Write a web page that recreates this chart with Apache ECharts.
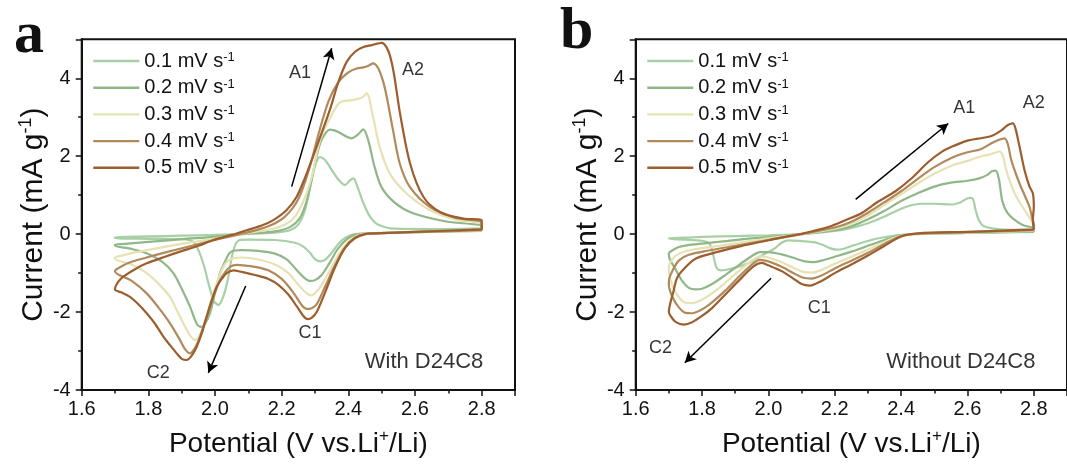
<!DOCTYPE html>
<html><head><meta charset="utf-8">
<script src="https://cdn.jsdelivr.net/npm/echarts@6/dist/echarts.min.js"></script>
<style>html,body{margin:0;padding:0;background:#fff}#c{width:1067px;height:468px}</style>
</head><body><div id="c"></div>
<script>
// ---------- data ----------
const seriesNames = ['0.1 mV s', '0.2 mV s', '0.3 mV s', '0.4 mV s', '0.5 mV s'];
const seriesColors = ['#a8d0a6', '#8fb787', '#e6e2b3', '#b08a5c', '#9c5e2e'];

// Panel a (With D24C8): closed CV loops, [potential V, current mA g-1]
const a01 = [[2.80,0.1],[2.65,0.07],[2.50,0.03],[2.42,0.0],[2.39,-0.1],[2.37,-0.25],[2.35,-0.48],[2.33,-0.66],[2.315,-0.7],[2.30,-0.64],[2.285,-0.48],[2.265,-0.32],[2.24,-0.22],[2.18,-0.15],[2.10,-0.14],[2.075,-0.15],[2.062,-0.25],[2.05,-0.6],[2.04,-1.1],[2.025,-1.6],[2.01,-1.82],[1.997,-1.72],[1.983,-1.35],[1.968,-0.85],[1.952,-0.45],[1.935,-0.2],[1.90,-0.13],[1.80,-0.12],[1.70,-0.11],
  [1.70,-0.08],[1.80,-0.06],[1.90,-0.04],[2.00,-0.02],[2.10,0.01],[2.18,0.04],[2.225,0.1],[2.25,0.25],[2.27,0.62],[2.285,1.2],[2.30,1.75],[2.315,1.98],[2.33,1.9],[2.35,1.65],[2.37,1.4],[2.39,1.26],[2.405,1.38],[2.415,1.43],[2.428,1.2],[2.445,0.8],[2.465,0.45],[2.49,0.24],[2.54,0.14],[2.65,0.13],[2.80,0.15],[2.80,0.1]];
const a02 = [[2.80,0.08],[2.60,0.05],[2.48,0.02],[2.43,0.0],[2.40,-0.1],[2.37,-0.36],[2.345,-0.72],[2.32,-1.05],[2.30,-1.18],[2.285,-1.2],[2.268,-1.12],[2.245,-0.92],[2.215,-0.65],[2.18,-0.5],[2.13,-0.43],[2.08,-0.41],[2.06,-0.42],[2.045,-0.47],[2.03,-0.7],[2.015,-1.0],[2.0,-1.5],[1.985,-2.03],[1.97,-2.3],[1.958,-2.38],[1.945,-2.3],[1.925,-1.86],[1.90,-1.4],[1.875,-1.0],[1.84,-0.7],[1.795,-0.49],[1.75,-0.38],[1.70,-0.3],
  [1.70,-0.27],[1.73,-0.25],[1.80,-0.2],[1.90,-0.13],[2.00,-0.07],[2.10,0.01],[2.18,0.07],[2.225,0.18],[2.255,0.42],[2.275,0.85],[2.29,1.4],[2.305,2.0],[2.32,2.42],[2.345,2.68],[2.37,2.62],[2.395,2.5],[2.41,2.46],[2.428,2.55],[2.445,2.69],[2.46,2.4],[2.478,1.75],[2.50,1.2],[2.54,0.8],[2.59,0.55],[2.69,0.33],[2.80,0.2],[2.80,0.08]];
const a03 = [[2.80,0.08],[2.60,0.05],[2.48,0.02],[2.44,0.0],[2.41,-0.12],[2.38,-0.4],[2.35,-0.85],[2.32,-1.3],[2.30,-1.52],[2.29,-1.57],[2.275,-1.52],[2.25,-1.3],[2.22,-1.0],[2.18,-0.78],[2.13,-0.65],[2.08,-0.6],[2.06,-0.61],[2.04,-0.68],[2.025,-0.84],[2.01,-1.15],[1.995,-1.52],[1.98,-1.95],[1.965,-2.38],[1.95,-2.65],[1.94,-2.72],[1.925,-2.6],[1.905,-2.29],[1.885,-1.95],[1.865,-1.61],[1.83,-1.27],[1.795,-1.0],[1.75,-0.78],[1.70,-0.63],
  [1.70,-0.6],[1.72,-0.55],[1.76,-0.47],[1.82,-0.37],[1.90,-0.25],[1.98,-0.14],[2.05,-0.04],[2.10,0.03],[2.18,0.15],[2.23,0.36],[2.26,0.75],[2.289,1.43],[2.314,2.38],[2.345,2.98],[2.375,3.38],[2.41,3.44],[2.44,3.5],[2.455,3.61],[2.474,3.01],[2.494,2.24],[2.524,1.56],[2.574,1.05],[2.644,0.62],[2.72,0.38],[2.80,0.25],[2.80,0.08]];
const a04 = [[2.80,0.1],[2.60,0.05],[2.48,0.02],[2.45,0.0],[2.42,-0.1],[2.39,-0.35],[2.36,-0.8],[2.33,-1.35],[2.305,-1.8],[2.29,-1.9],[2.275,-1.92],[2.26,-1.82],[2.235,-1.5],[2.20,-1.15],[2.16,-0.93],[2.12,-0.84],[2.085,-0.8],[2.065,-0.79],[2.045,-0.84],[2.03,-0.98],[2.015,-1.18],[2.0,-1.5],[1.985,-1.86],[1.97,-2.25],[1.955,-2.63],[1.94,-2.92],[1.925,-3.06],[1.91,-2.95],[1.895,-2.72],[1.865,-2.29],[1.83,-1.88],[1.795,-1.52],[1.75,-1.2],[1.70,-0.96],
  [1.70,-0.94],[1.715,-0.85],[1.74,-0.74],[1.795,-0.6],[1.86,-0.45],[1.93,-0.3],[2.00,-0.15],[2.05,-0.05],[2.10,0.05],[2.16,0.2],[2.21,0.45],[2.25,0.9],[2.28,1.6],[2.31,2.55],[2.34,3.4],[2.37,3.9],[2.40,4.15],[2.425,4.25],[2.445,4.28],[2.462,4.33],[2.474,4.38],[2.49,4.25],[2.505,3.9],[2.515,3.53],[2.534,2.67],[2.554,1.82],[2.584,1.22],[2.644,0.7],[2.72,0.42],[2.80,0.3],[2.80,0.1]];
const a05 = [[2.80,0.12],[2.60,0.06],[2.48,0.02],[2.45,0.0],[2.42,-0.1],[2.39,-0.35],[2.36,-0.85],[2.33,-1.5],[2.305,-2.0],[2.29,-2.15],[2.278,-2.18],[2.265,-2.1],[2.245,-1.85],[2.22,-1.55],[2.19,-1.3],[2.16,-1.15],[2.12,-1.05],[2.08,-0.97],[2.055,-0.93],[2.035,-1.0],[2.02,-1.15],[2.005,-1.35],[1.99,-1.7],[1.975,-2.12],[1.96,-2.55],[1.945,-2.89],[1.93,-3.12],[1.915,-3.23],[1.90,-3.2],[1.885,-3.06],[1.865,-2.85],[1.845,-2.63],[1.82,-2.3],[1.795,-2.03],[1.77,-1.8],[1.745,-1.61],[1.72,-1.5],[1.70,-1.43],
  [1.70,-1.4],[1.71,-1.22],[1.725,-1.09],[1.76,-0.9],[1.795,-0.75],[1.85,-0.58],[1.895,-0.45],[1.95,-0.3],[1.995,-0.15],[2.05,-0.02],[2.095,0.1],[2.14,0.22],[2.175,0.36],[2.215,0.62],[2.245,0.96],[2.27,1.45],[2.294,1.99],[2.32,2.6],[2.345,3.2],[2.37,3.9],[2.395,4.42],[2.42,4.68],[2.445,4.8],[2.47,4.85],[2.50,4.91],[2.52,4.7],[2.535,4.2],[2.555,3.1],[2.585,1.82],[2.625,0.96],[2.675,0.57],[2.745,0.40],[2.80,0.36],[2.80,0.12]];

// Panel b (Without D24C8)
const b01 = [[2.80,0.06],[2.70,0.05],[2.60,0.03],[2.50,0.01],[2.40,-0.02],[2.35,-0.08],[2.31,-0.15],[2.26,-0.28],[2.225,-0.38],[2.205,-0.4],[2.185,-0.36],[2.165,-0.28],[2.14,-0.21],[2.10,-0.18],[2.06,-0.16],[2.04,-0.22],[2.02,-0.36],[1.98,-0.55],[1.94,-0.74],[1.90,-0.86],[1.87,-0.92],[1.855,-0.93],[1.845,-0.88],[1.838,-0.7],[1.83,-0.4],[1.82,-0.22],[1.80,-0.17],[1.75,-0.14],[1.70,-0.12],
  [1.70,-0.1],[1.75,-0.09],[1.80,-0.07],[1.90,-0.05],[2.00,-0.03],[2.10,0.0],[2.20,0.08],[2.25,0.16],[2.30,0.28],[2.35,0.45],[2.40,0.65],[2.43,0.74],[2.46,0.78],[2.50,0.78],[2.55,0.76],[2.58,0.82],[2.605,0.93],[2.615,0.92],[2.625,0.6],[2.635,0.35],[2.65,0.2],[2.70,0.12],[2.80,0.1],[2.80,0.06]];
const b02 = [[2.80,0.06],[2.60,0.03],[2.45,0.01],[2.40,-0.03],[2.35,-0.15],[2.30,-0.3],[2.25,-0.45],[2.20,-0.58],[2.16,-0.68],[2.135,-0.72],[2.11,-0.7],[2.08,-0.62],[2.04,-0.52],[2.00,-0.46],[1.975,-0.46],[1.95,-0.56],[1.91,-0.8],[1.87,-1.05],[1.83,-1.28],[1.80,-1.4],[1.78,-1.42],[1.76,-1.38],[1.74,-1.2],[1.72,-0.9],[1.70,-0.55],
  [1.70,-0.5],[1.71,-0.42],[1.73,-0.33],[1.77,-0.27],[1.85,-0.2],[1.95,-0.11],[2.05,-0.04],[2.10,0.0],[2.20,0.1],[2.25,0.2],[2.30,0.38],[2.35,0.6],[2.40,0.85],[2.45,1.05],[2.50,1.22],[2.55,1.32],[2.60,1.37],[2.635,1.43],[2.66,1.52],[2.675,1.62],[2.685,1.63],[2.695,1.4],[2.705,0.85],[2.72,0.55],[2.74,0.38],[2.77,0.22],[2.80,0.15],[2.80,0.06]];
const b03 = [[2.80,0.08],[2.60,0.04],[2.45,0.01],[2.40,-0.04],[2.35,-0.2],[2.30,-0.4],[2.25,-0.58],[2.20,-0.76],[2.16,-0.92],[2.13,-0.99],[2.105,-0.97],[2.08,-0.88],[2.04,-0.72],[2.00,-0.6],[1.975,-0.57],[1.95,-0.68],[1.91,-0.95],[1.87,-1.25],[1.83,-1.52],[1.80,-1.68],[1.77,-1.77],[1.75,-1.76],[1.73,-1.62],[1.71,-1.3],[1.70,-0.95],
  [1.70,-0.85],[1.71,-0.65],[1.73,-0.5],[1.77,-0.4],[1.85,-0.3],[1.95,-0.17],[2.05,-0.05],[2.10,0.0],[2.20,0.14],[2.25,0.27],[2.30,0.48],[2.35,0.75],[2.40,1.02],[2.45,1.3],[2.50,1.55],[2.55,1.75],[2.60,1.88],[2.642,2.0],[2.67,2.05],[2.697,2.12],[2.707,2.0],[2.717,1.64],[2.742,1.05],[2.772,0.62],[2.792,0.36],[2.80,0.2],[2.80,0.08]];
const b04 = [[2.80,0.1],[2.60,0.05],[2.45,0.01],[2.40,-0.05],[2.35,-0.25],[2.30,-0.48],[2.25,-0.68],[2.20,-0.88],[2.16,-1.06],[2.13,-1.14],[2.105,-1.12],[2.08,-1.02],[2.04,-0.84],[2.00,-0.7],[1.975,-0.66],[1.95,-0.78],[1.91,-1.1],[1.87,-1.45],[1.83,-1.75],[1.80,-1.93],[1.77,-2.03],[1.75,-2.02],[1.73,-1.88],[1.71,-1.6],[1.70,-1.3],
  [1.70,-1.2],[1.71,-0.95],[1.73,-0.68],[1.76,-0.53],[1.82,-0.42],[1.90,-0.3],[2.00,-0.15],[2.10,0.0],[2.20,0.17],[2.25,0.32],[2.30,0.55],[2.35,0.82],[2.40,1.1],[2.45,1.42],[2.50,1.72],[2.55,1.95],[2.60,2.1],[2.64,2.18],[2.672,2.33],[2.695,2.42],[2.712,2.46],[2.722,2.3],[2.732,1.9],[2.757,1.3],[2.787,0.7],[2.794,0.45],[2.80,0.25],[2.80,0.1]];
const b05 = [[2.80,0.12],[2.60,0.06],[2.45,0.02],[2.40,-0.06],[2.35,-0.3],[2.30,-0.55],[2.25,-0.78],[2.20,-1.0],[2.16,-1.2],[2.125,-1.32],[2.10,-1.28],[2.075,-1.14],[2.04,-0.95],[2.00,-0.8],[1.98,-0.74],[1.955,-0.83],[1.91,-1.2],[1.87,-1.55],[1.83,-1.9],[1.80,-2.1],[1.77,-2.26],[1.745,-2.32],[1.72,-2.25],[1.705,-2.1],[1.70,-1.99],
  [1.705,-1.75],[1.713,-1.5],[1.725,-1.12],[1.75,-0.85],[1.783,-0.62],[1.85,-0.45],[1.92,-0.3],[1.983,-0.19],[2.05,-0.07],[2.10,0.01],[2.183,0.19],[2.23,0.35],[2.283,0.55],[2.33,0.83],[2.383,1.1],[2.43,1.42],[2.482,1.85],[2.52,2.1],[2.552,2.24],[2.60,2.4],[2.632,2.45],[2.672,2.52],[2.70,2.65],[2.722,2.8],[2.737,2.84],[2.745,2.7],[2.757,2.24],[2.772,1.64],[2.787,1.22],[2.797,1.05],[2.80,0.7],[2.797,0.36],[2.80,0.12]];

const aCurves = [a01, a02, a03, a04, a05];
const bCurves = [b01, b02, b03, b04, b05];

// axes
const xMin = 1.6, xMax = 2.9, xStep = 0.2;
const yMin = -4, yMax = 5, yStep = 2;

// annotations [x, y, text]
const aNotes = [[2.255, 4.13, 'A1'], [2.594, 4.21, 'A2'], [2.285, -2.55, 'C1'], [1.83, -3.57, 'C2']];
const bNotes = [[2.59, 3.23, 'A1'], [2.80, 3.36, 'A2'], [2.153, -1.90, 'C1'], [1.675, -2.93, 'C2']];
const aArrows = [[[2.23, 1.22], [2.35, 4.77]], [[2.092, -1.33], [1.98, -3.56]]];
const bArrows = [[[2.263, 0.89], [2.542, 2.84]], [[2.008, -1.13], [1.748, -3.30]]];
const aCondition = [[2.805, -3.28, 'With D24C8']];
const bCondition = [[2.805, -3.28, 'Without D24C8']];
const panelLetters = ['a', 'b'];

// ---------- chart ----------
const FONT = "'Liberation Sans', Arial, Helvetica, sans-serif";
const INK = '#111';
const chart = echarts.init(document.getElementById('c'), null, {renderer: 'canvas'});

const gridBox = [
  {left: 81.7, top: 39.3, width: 433.3, height: 350.7},
  {left: 635.7, top: 39.3, width: 433.3, height: 350.7}
];

function nameRich(size) {
  return {
    n: {fontSize: size, fontFamily: FONT, color: INK, lineHeight: size + 4},
    s: {fontSize: Math.round(size * 0.6), fontFamily: FONT, color: INK, verticalAlign: 'top', lineHeight: Math.round(size * 0.6)}
  };
}

function xAxis(i) {
  return {
    type: 'value', gridIndex: i, min: xMin, max: xMax, interval: xStep,
    axisLine: {show: true, onZero: false, lineStyle: {color: INK, width: 2}},
    axisTick: {show: true, length: 6, lineStyle: {color: INK, width: 1.5}},
    minorTick: {show: true, splitNumber: 2, length: 3.5, lineStyle: {color: INK, width: 1.5}},
    splitLine: {show: false}, minorSplitLine: {show: false},
    axisLabel: {fontSize: 20, fontFamily: FONT, color: INK, margin: 9, showMaxLabel: false,
      formatter: v => v.toFixed(1)},
    name: '{n|Potential (V vs.Li}{s|+}{n|/Li)}', nameLocation: 'middle', nameGap: 38,
    nameTextStyle: {rich: nameRich(28)}
  };
}
function yAxis(i) {
  return {
    type: 'value', gridIndex: i, min: yMin, max: yMax, interval: yStep,
    axisLine: {show: true, onZero: false, lineStyle: {color: INK, width: 2}},
    axisTick: {show: true, length: 6, lineStyle: {color: INK, width: 1.5}},
    minorTick: {show: true, splitNumber: 2, length: 3.5, lineStyle: {color: INK, width: 1.5}},
    splitLine: {show: false}, minorSplitLine: {show: false},
    axisLabel: {fontSize: 20, fontFamily: FONT, color: INK, margin: 11, showMaxLabel: false,
      formatter: v => String(v)},
    name: '{n|Current (mA g}{s|-1}{n|)}', nameLocation: 'middle', nameGap: 31,
    nameTextStyle: {rich: nameRich(30)}
  };
}

function legend(left) {
  return {
    data: seriesNames, orient: 'vertical', left: left, top: 51, padding: 0,
    icon: 'rect', itemWidth: 46, itemHeight: 2.4, itemGap: 6.7, selectedMode: false,
    formatter: n => '{n|' + n + '}{s|-1}',
    textStyle: {
      rich: {
        n: {fontSize: 20, fontFamily: FONT, color: INK, lineHeight: 20},
        s: {fontSize: 13, fontFamily: FONT, color: INK, verticalAlign: 'top', lineHeight: 13}
      }
    }
  };
}

const series = [];
[aCurves, bCurves].forEach((curves, gi) => {
  curves.forEach((d, k) => {
    series.push({
      type: 'line', name: seriesNames[k], xAxisIndex: gi, yAxisIndex: gi,
      data: d, symbol: 'none', smooth: 0.3, z: 2 + k,
      lineStyle: {color: seriesColors[k], width: 2.2},
      itemStyle: {color: seriesColors[k]}
    });
  });
});

[[aNotes, aArrows, aCondition], [bNotes, bArrows, bCondition]].forEach(([notes, arrows, cond], gi) => {
  series.push({
    type: 'scatter', xAxisIndex: gi, yAxisIndex: gi, symbolSize: 0, silent: true, z: 10,
    data: notes,
    label: {show: true, position: 'inside', formatter: p => p.data[2], fontSize: 18, fontFamily: FONT, color: '#000'},
    markLine: {
      silent: true, symbol: ['none', 'arrow'], symbolSize: [9, 11], animation: false,
      lineStyle: {color: '#000', width: 1.5, type: 'solid'}, label: {show: false},
      data: arrows.map(([p, q]) => [{coord: p}, {coord: q}])
    }
  });
  series.push({
    type: 'scatter', xAxisIndex: gi, yAxisIndex: gi, symbolSize: 0, silent: true, z: 10,
    data: cond,
    label: {show: true, position: 'left', distance: 0, formatter: p => p.data[2], fontSize: 22, fontFamily: FONT, color: '#000'}
  });
});

const option = {
  animation: false,
  backgroundColor: '#fff',
  grid: gridBox.map(g => Object.assign({show: true, borderColor: INK, borderWidth: 2, backgroundColor: 'transparent', containLabel: false}, g)),
  xAxis: [xAxis(0), xAxis(1)],
  yAxis: [yAxis(0), yAxis(1)],
  legend: [legend(93.3), legend(647.3)],
  series: series,
  graphic: [
    {type: 'text', x: 14, y: 36, style: {text: panelLetters[0], font: 'bold 60px "Liberation Serif", "Times New Roman", serif', fill: '#111', verticalAlign: 'middle'}},
    {type: 'text', x: 560, y: 32, style: {text: panelLetters[1], font: 'bold 60px "Liberation Serif", "Times New Roman", serif', fill: '#111', verticalAlign: 'middle'}}
  ]
};
chart.setOption(option);
</script></body></html>
